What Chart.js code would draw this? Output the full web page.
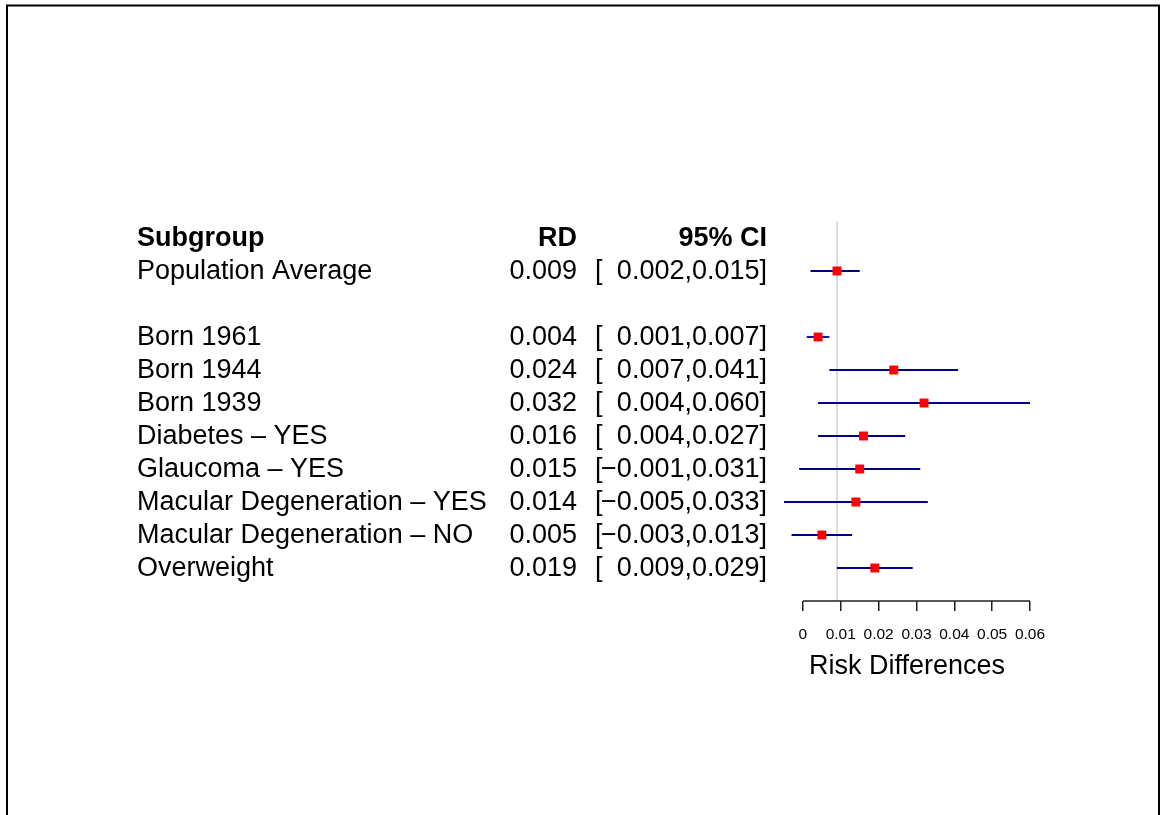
<!DOCTYPE html>
<html>
<head>
<meta charset="utf-8">
<script src="https://cdn.jsdelivr.net/npm/chart.js@4.4.1/dist/chart.umd.min.js"></script>
<style>
  html, body { margin: 0; padding: 0; background: #fff; }
  #wrap { width: 1160px; height: 815px; }
</style>
</head>
<body>
<div id="wrap"><canvas id="graph1"></canvas></div>
<script>
// forest plot data
const subgroups = ["Population Average", "Born 1961", "Born 1944", "Born 1939", "Diabetes \u2013 YES",
  "Glaucoma \u2013 YES", "Macular Degeneration \u2013 YES", "Macular Degeneration \u2013 NO", "Overweight"];
const rowPos = [1, 3, 4, 5, 6, 7, 8, 9, 10];
const rd = [0.009, 0.004, 0.024, 0.032, 0.016, 0.015, 0.014, 0.005, 0.019];
const ciLow = [0.002, 0.001, 0.007, 0.004, 0.004, -0.001, -0.005, -0.003, 0.009];
const ciHigh = [0.015, 0.007, 0.041, 0.060, 0.027, 0.031, 0.033, 0.013, 0.029];
const headers = ["Subgroup", "RD", "95% CI"];
const tickVals = [0, 0.01, 0.02, 0.03, 0.04, 0.05, 0.06];
const tickLabels = ["0", "0.01", "0.02", "0.03", "0.04", "0.05", "0.06"];
const axisTitle = "Risk Differences";

const family = "'Liberation Sans', Arial, Helvetica, sans-serif";
Chart.defaults.font.family = family;

function fmt(v) {
  return (v < 0 ? "\u2212" : "") + Math.abs(v).toFixed(3);
}

// frame round the figure
const framePlugin = {
  id: "frame",
  beforeDraw(chart) {
    const ctx = chart.ctx;
    ctx.save();
    ctx.fillStyle = "#fff";
    ctx.fillRect(0, 0, chart.width, chart.height);
    ctx.strokeStyle = "#000";
    ctx.lineWidth = 2;
    ctx.strokeRect(7, 5.5, 1152, 1000);
    ctx.restore();
  }
};

// text columns + axis line
const tablePlugin = {
  id: "table",
  afterDraw(chart) {
    const ctx = chart.ctx;
    const y = chart.scales.y, x = chart.scales.x;
    ctx.save();
    ctx.fillStyle = "#000";
    ctx.textBaseline = "middle";

    let hy = y.getPixelForValue(0) + 1;
    ctx.font = "bold 27px " + family;
    ctx.textAlign = "left";
    ctx.fillText(headers[0], 137, hy);
    ctx.textAlign = "right";
    ctx.fillText(headers[1], 577, hy);
    ctx.fillText(headers[2], 767, hy);

    ctx.font = "27px " + family;
    subgroups.forEach(function(name, i) {
      const py = y.getPixelForValue(rowPos[i]) + 1;
      ctx.textAlign = "left";
      ctx.fillText(name, 137, py);
      ctx.fillText("[", 595, py);
      ctx.textAlign = "right";
      ctx.fillText(rd[i].toFixed(3), 577, py);
      ctx.fillText(fmt(ciLow[i]) + "," + ciHigh[i].toFixed(3) + "]", 767, py);
    });

    // axis line only over the tick range
    const b = chart.chartArea.bottom;
    ctx.strokeStyle = "#222";
    ctx.lineWidth = 1.5;
    ctx.beginPath();
    ctx.moveTo(x.getPixelForValue(tickVals[0]), b);
    ctx.lineTo(x.getPixelForValue(tickVals[tickVals.length - 1]), b);
    ctx.stroke();
    ctx.restore();
  }
};

const ctx = document.getElementById("graph1");

const datasets = [];
datasets.push({
  label: "RD",
  data: rd.map(function(v, i) { return { x: v, y: rowPos[i] }; }),
  pointStyle: "rect",
  pointRadius: 6.3,
  backgroundColor: "#ff0000",
  borderWidth: 0,
  order: 0,
  clip: false
});
rd.forEach(function(v, i) {
  datasets.push({
    label: "CI " + subgroups[i],
    data: [{ x: ciLow[i], y: rowPos[i] }, { x: ciHigh[i], y: rowPos[i] }],
    showLine: true,
    borderColor: "#00008b",
    borderWidth: 1.8,
    pointRadius: 0,
    order: 1,
    clip: false
  });
});
datasets.push({
  label: "ref",
  data: [{ x: rd[0], y: -0.5 }, { x: rd[0], y: 11 }],
  showLine: true,
  borderColor: "#dcdcdc",
  borderWidth: 2,
  pointRadius: 0,
  order: 2,
  clip: false
});

new Chart(ctx, {
  type: "scatter",
  data: { datasets: datasets },
  options: {
    responsive: true,
    maintainAspectRatio: false,
    animation: false,
    layout: { padding: { left: 784, right: 130, top: 221.5, bottom: 132 } },
    plugins: {
      legend: { display: false },
      tooltip: { enabled: false }
    },
    scales: {
      x: {
        type: "linear",
        min: -0.005,
        max: 0.06,
        afterBuildTicks: function(scale) {
          scale.ticks = tickVals.map(function(v) { return { value: v }; });
        },
        afterFit: function(scale) {
          scale.height = 82;
        },
        grid: { display: true, drawOnChartArea: false, drawTicks: true, tickLength: 10, color: "#222", lineWidth: 1.5 },
        border: { display: false },
        ticks: {
          autoSkip: false,
          maxRotation: 0,
          padding: 14,
          color: "#000",
          font: { size: 15.5 },
          callback: function(v, i) { return tickLabels[i]; }
        },
        title: {
          display: true,
          text: axisTitle,
          color: "#000",
          font: { size: 27 },
          padding: { top: 0, bottom: 0 }
        }
      },
      y: {
        type: "linear",
        min: -0.5,
        max: 11,
        reverse: true,
        display: false
      }
    }
  },
  plugins: [framePlugin, tablePlugin]
});
</script>
</body>
</html>
